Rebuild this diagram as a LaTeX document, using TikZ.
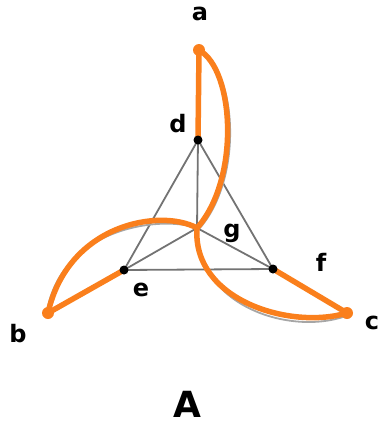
\documentclass[tikz,border=0pt]{standalone}
\usepackage{fontspec}
\setmainfont{DejaVu Sans}
\begin{document}
\begin{tikzpicture}[x=1pt,y=-1pt,
  grayline/.style={draw=black!55, line width=1.8pt},
  grayarc/.style={draw=black!35, line width=1.8pt},
  orangeline/.style={draw=orangec, line width=5.5pt, line cap=round},
  blackdot/.style={circle, fill=black, inner sep=0pt, minimum size=9pt},
  orangedot/.style={circle, fill=orangec, inner sep=0pt, minimum size=12pt},
  lbl/.style={font=\bfseries\fontsize{24}{26}\selectfont, inner sep=0pt}]
\definecolor{orangec}{HTML}{FA7F1C}
\useasboundingbox (0,0) rectangle (387,429);
% points
\coordinate (a) at (199,50);
\coordinate (b) at (48,313);
\coordinate (c) at (347,313);
\coordinate (d) at (198,140);
\coordinate (e) at (124,270);
\coordinate (f) at (273,269);
\coordinate (g) at (197,228);
% gray skeleton
\draw[grayline] (d) -- (e) -- (f) -- cycle;
\draw[grayline] (g) -- (d) (g) -- (e) (g) -- (f);
\draw[grayline] (d) -- (a) (e) -- (b) (f) -- (c);
\draw[grayarc] (a) .. controls (238,72) and (243,180) .. (199,229);
\draw[grayarc] (g) .. controls (160,215) and (62,228) .. (47,311);
\draw[grayarc] (g) .. controls (196,306) and (290,336) .. (346,316);
% orange pinwheel
\draw[orangeline] (a) -- (d);
\draw[orangeline] (b) -- (e);
\draw[orangeline] (c) -- (f);
\draw[orangeline] (a) .. controls (235,70) and (240,180) .. (g);
\draw[orangeline] (g) .. controls (160,208) and (68,224) .. (b);
\draw[orangeline] (g) .. controls (192,300) and (290,330) .. (c);
% dots
\node[blackdot] (nd) at (d) {};
\node[blackdot] (ne) at (e) {};
\node[blackdot] (nf) at (f) {};
\node[orangedot] (na) at (a) {};
\node[orangedot] (nb) at (b) {};
\node[orangedot] (nc) at (c) {};
% labels
\node[lbl] (la) at (200,14) {a};
\node[lbl] (ld) at (178,124) {d};
\node[lbl] (lg) at (232,233) {g};
\node[lbl] (le) at (141,290) {e};
\node[lbl] (lf) at (321,262) {f};
\node[lbl] (lb) at (18,334) {b};
\node[lbl] (lc) at (372,323) {c};
\node[lbl, font=\bfseries\fontsize{36}{40}\selectfont] (lA) at (187,404) {A};
\end{tikzpicture}
\end{document}
